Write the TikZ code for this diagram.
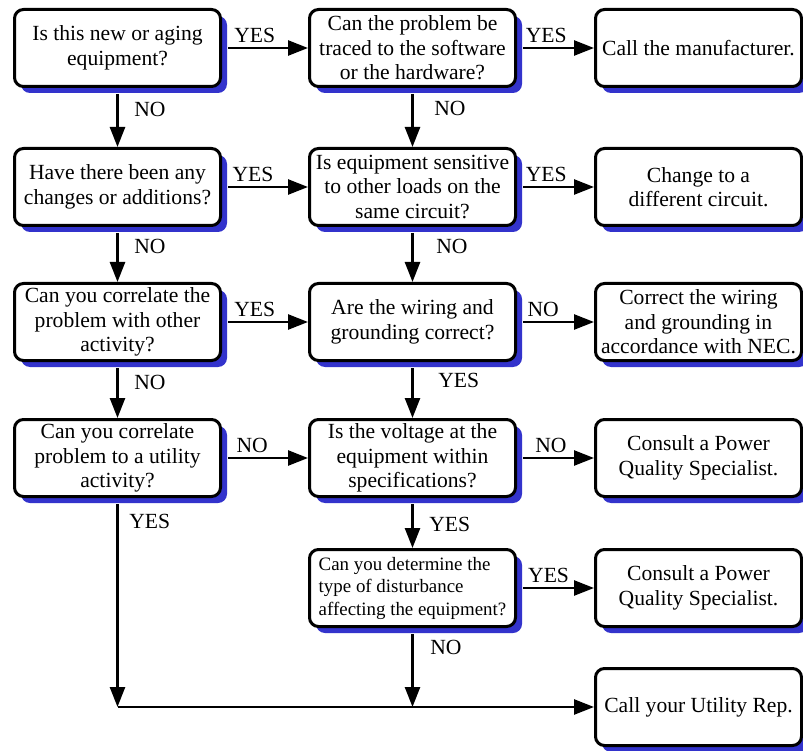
\documentclass[tikz,border=0pt]{standalone}
\usepackage{fontspec}
\setmainfont{Liberation Serif}
\usetikzlibrary{arrows.meta,shadows}
\definecolor{shadowblue}{RGB}{51,51,204}

\begin{document}
\begin{tikzpicture}[x=1pt,y=-1pt,line width=2.5pt,>={Triangle[length=20pt,width=15pt]},
	box/.style={draw,line width=3pt,rounded corners=9pt,fill=white,minimum width=206pt,minimum height=77pt,
		align=center,inner sep=2pt,font=\fontsize{21.6}{24.5}\selectfont,
		drop shadow={shadow xshift=6.5pt,shadow yshift=-6.5pt,fill=shadowblue,opacity=1}},
	lbl/.style={font=\fontsize{21.6}{24.5}\selectfont,inner sep=4pt}]
	\useasboundingbox (0,0) rectangle (803,751);
	\node[box] (1) at (117.5,48) {Is this new or aging\\equipment?}; \node[box] (2) at (412.5,48) {Can the problem be\\traced to the software\\or the hardware?}; \node[box] (3) at (698.5,48) {Call the manufacturer.};
	\node[box] (4) at (117.5,187) {Have there been any\\changes or additions?}; \node[box] (5) at (412.5,187) {Is equipment sensitive\\to other loads on the\\same circuit?}; \node[box] (6) at (698.5,187) {Change to a\\different circuit.};
	\node[box] (7) at (117.5,322) {Can you correlate the\\problem with other\\activity?}; \node[box] (8) at (412.5,322) {Are the wiring and\\grounding correct?}; \node[box] (9) at (698.5,322) {Correct the wiring\\and grounding in\\accordance with NEC.};
	\node[box] (10) at (117.5,458) {Can you correlate\\problem to a utility\\activity?}; \node[box] (11) at (412.5,458) {Is the voltage at the\\equipment within\\specifications?}; \node[box] (12) at (698.5,458) {Consult a Power\\Quality Specialist.};
	\node[box,align=left,font=\fontsize{18.9}{22.5}\selectfont] (13) at (412.5,588) {Can you determine the\\type of disturbance\\affecting the equipment?}; \node[box] (14) at (698.5,588) {Consult a Power\\Quality Specialist.};
	\node[box] (15) at (698.5,707) {Call your Utility Rep.};
	\coordinate (j) at (10.south |- 15.west); \coordinate (k) at (13.south |- 15.west);
	\draw[->,shorten <=6pt] (1) --node[lbl,above,pos=.38]{YES} (2);
	\draw[->,shorten <=6pt] (2) --node[lbl,above,pos=.38]{YES} (3);
	\draw[->,shorten <=6pt] (1) --node[lbl,right,pos=.36,xshift=11.5pt]{NO} (4);
	\draw[->,shorten <=6pt] (2) --node[lbl,right,pos=.34,xshift=16.5pt]{NO} (5);
	\draw[->,shorten <=6pt] (4) --node[lbl,above,pos=.36]{YES} (5);
	\draw[->,shorten <=6pt] (5) --node[lbl,above,pos=.38]{YES} (6);
	\draw[->,shorten <=6pt] (4) --node[lbl,right,pos=.36,xshift=11.5pt]{NO} (7);
	\draw[->,shorten <=6pt] (5) --node[lbl,right,pos=.36,xshift=18.5pt]{NO} (8);
	\draw[->,shorten <=6pt] (7) --node[lbl,above,pos=.38]{YES} (8);
	\draw[->,shorten <=6pt] (8) --node[lbl,above,pos=.34]{NO} (9);
	\draw[->,shorten <=6pt] (7) --node[lbl,right,pos=.36,xshift=11.5pt]{NO} (10);
	\draw[->,shorten <=6pt] (8) --node[lbl,right,pos=.33,xshift=20.5pt]{YES} (11);
	\draw[->,shorten <=6pt] (10) --node[lbl,above,pos=.35]{NO} (11);
	\draw[->,shorten <=6pt] (11) --node[lbl,above,pos=.44]{NO} (12);
	\draw[->,shorten <=6pt] (11) --node[lbl,right,pos=.53,xshift=11.5pt]{YES} (13);
	\draw[->,shorten <=6pt] (13) --node[lbl,above,pos=.41]{YES} (14);
	\draw[->,shorten <=6pt] (10) --node[lbl,right,pos=.11,xshift=6.5pt]{YES} (j);
	\draw[->,shorten <=6pt] (13) --node[lbl,right,pos=.24,xshift=12.5pt]{NO} (k);
	\draw[->] (j) -- (15);
\end{tikzpicture}
\end{document}
